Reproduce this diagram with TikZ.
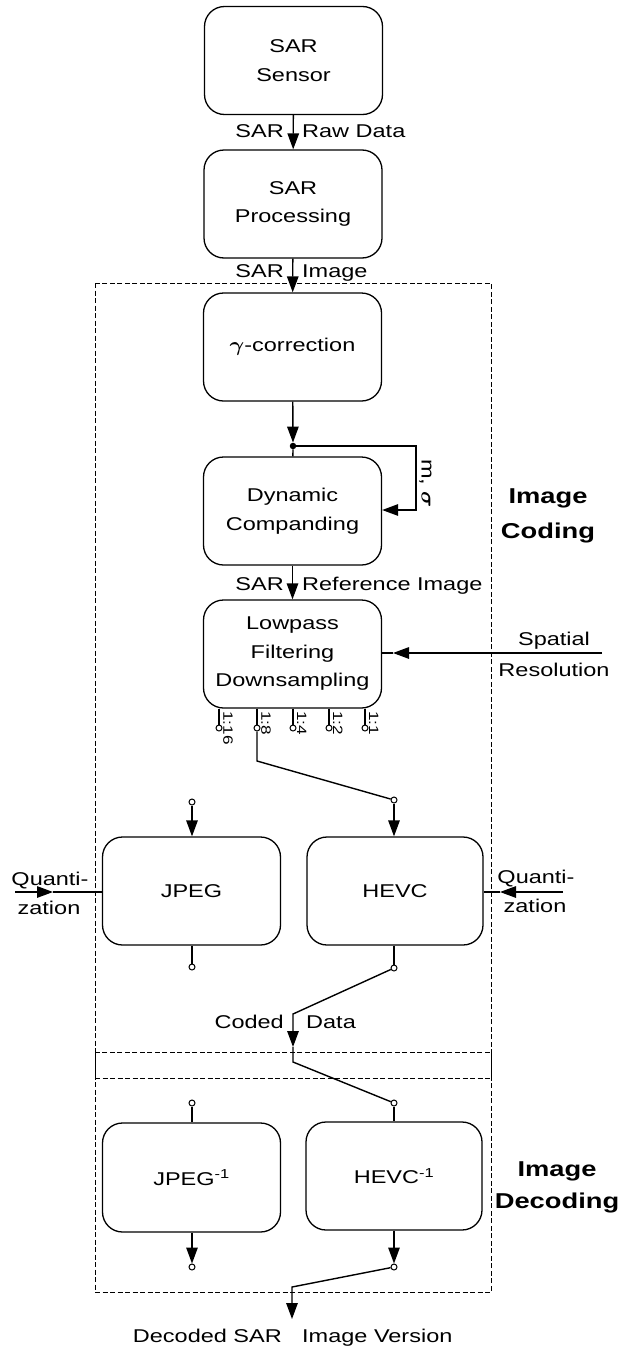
\documentclass[tikz,border=0pt]{standalone}
\usepackage{bm}
\usepackage{graphicx}
\usepackage{fontspec}
\setmainfont{Liberation Sans}[FakeStretch=1.27]
\usetikzlibrary{arrows.meta}
\newcommand{\txtsize}{\fontsize{18.5pt}{28.5pt}\selectfont}
\newcommand{\tapsize}{\fontsize{13.5pt}{16pt}\selectfont}
\newcommand{\headsize}{\fontsize{21.5pt}{26pt}\selectfont\bfseries}
\newcommand{\grk}[1]{\scalebox{1.3}[1.15]{$\bm{#1}$}}
\begin{document}
\begin{tikzpicture}[x=1pt,y=-1pt,
  block/.style={draw, line width=1.3pt, rounded corners=20pt,
    minimum width=178pt, minimum height=108pt, align=center,
    font=\txtsize, inner sep=2pt},
  flow/.style={line width=1.4pt, -{Triangle[length=16pt,width=11.5pt]}},
  wire/.style={line width=1.4pt},
  tap/.style={circle, draw, fill=white, line width=1pt, inner sep=0pt,
    minimum size=6pt},
  junct/.style={circle, fill, inner sep=0pt, minimum size=6.5pt},
  lbl/.style={font=\txtsize, inner sep=0pt},
  ratio/.style={font=\tapsize, inner sep=0pt, rotate=-90, anchor=south west},
  head/.style={font=\headsize, inner sep=0pt, anchor=base},
  frame/.style={draw, line width=1pt, dash pattern=on 5pt off 2.5pt}]

\useasboundingbox (0,0) rectangle (624,1349);

% coding and decoding frames
\draw[frame] (95,283) rectangle (491,1078);
\draw[frame] (95,1052) rectangle (491,1292);

% processing chain
\node[block] (sensor) at (293.5,60.5) {SAR\\Sensor};
\node[block] (proc)   at (293,204)   {SAR\\Processing};
\node[block] (gamma)  at (292.5,347) {\grk{\gamma}-correction};
\node[block] (dyn)    at (292.5,511) {Dynamic\\Companding};
\node[block] (lpf)    at (292.5,654) {Lowpass\\Filtering\\Downsampling};

\draw[flow] (sensor) -- (proc);
\draw[flow] (proc) -- (gamma);
\node[lbl, anchor=base east] (l1a) at (284,137) {SAR};
\node[lbl, anchor=base west] (l1b) at (302,137) {Raw Data};
\node[lbl, anchor=base east] (l2a) at (284,277) {SAR};
\node[lbl, anchor=base west] (l2b) at (302,277) {Image};

% statistics feedback
\node[junct] (j) at (293,446) {};
\coordinate (fb1) at (416,446);
\coordinate (fb2) at (416,510);
\draw[flow] (gamma) -- (j);
\draw[wire] (j) -- (dyn);
\draw[flow] (j.center) -- (fb1) -- (fb2) -- (fb2 -| dyn.east);
\node[font=\txtsize, inner sep=0pt, rotate=-90, anchor=south west] (ms) at (419,459) {m, \grk{\sigma}};

\draw[flow] (dyn) -- (lpf);
\node[lbl, anchor=base east] (l3a) at (284,590) {SAR};
\node[lbl, anchor=base west] (l3b) at (302,590) {Reference Image};

% spatial resolution input
\coordinate (sr0) at (602,653);
\coordinate (sr1) at (393,653);
\draw[flow] (sr0) -- (sr1);
\draw[wire] (sr1) -- (sr1 -| lpf.east);
\node[head, font=\txtsize\mdseries] (sp1) at (554,645) {Spatial};
\node[head, font=\txtsize\mdseries] (sp2) at (554,676) {Resolution};

% downsampling taps
\foreach \nm/\xx/\rt in {t16/219/1:16, t8/257/1:8, t4/293/1:4, t2/329/1:2, t1/365/1:1}{
  \node[tap] (\nm) at (\xx,728) {};
  \draw[wire] (\nm |- lpf.south) -- (\nm);
  \node[ratio] at (\xx+4,711) {\rt};
}

% encoders
\node[block] (jpeg) at (191.5,891) {JPEG};
\node[block, minimum width=176pt] (hevc) at (395,891) {HEVC};

\node[tap] (jin)  at (192,802) {};
\node[tap] (hin)  at (394,800) {};
\coordinate (s1) at (257,761);
\draw[wire] (t8) -- (s1) -- (hin);
\draw[flow] (jin) -- (jin |- jpeg.north);
\draw[flow] (hin) -- (hin |- hevc.north);

% quantization inputs
\coordinate (q0) at (15,892);
\coordinate (q1) at (53,892);
\draw[flow] (q0) -- (q1);
\draw[wire] (q1) -- (q1 -| jpeg.west);
\node[head, font=\txtsize\mdseries] (qa) at (50,885) {Quanti-};
\node[head, font=\txtsize\mdseries] (qb) at (49,914) {zation};
\coordinate (r0) at (563,892);
\coordinate (r1) at (500,892);
\draw[flow] (r0) -- (r1);
\draw[wire] (r1) -- (r1 -| hevc.east);
\node[head, font=\txtsize\mdseries] (ra) at (536,883) {Quanti-};
\node[head, font=\txtsize\mdseries] (rb) at (535,912) {zation};

% encoder outputs and channel
\node[tap] (jout) at (192,967) {};
\node[tap] (hout) at (394,968) {};
\draw[wire] (jout |- jpeg.south) -- (jout);
\draw[wire] (hout |- hevc.south) -- (hout);
\coordinate (c1) at (293,1014);
\coordinate (c2) at (293,1047);
\coordinate (c3) at (293,1062);
\draw[flow] (hout) -- (c1) -- (c2);
\node[lbl, anchor=base east] (cd1) at (284,1028) {Coded};
\node[lbl, anchor=base west] (cd2) at (306,1028) {Data};

% decoders
\node[block, minimum height=109pt] (jpegi) at (191.5,1177.5) {JPEG\textsuperscript{-1}};
\node[block, minimum width=176pt] (hevci) at (394,1176) {HEVC\textsuperscript{-1}};
\node[tap] (jiin) at (192,1103) {};
\node[tap] (hiin) at (394,1103) {};
\draw[wire] (c2) -- (c3) -- (hiin);
\draw[wire] (jiin) -- (jiin |- jpegi.north);
\draw[wire] (hiin) -- (hiin |- hevci.north);
\node[tap] (jiout) at (192,1267) {};
\node[tap] (hiout) at (394,1267) {};
\draw[flow] (jiout |- jpegi.south) -- (jiout.north);
\draw[flow] (hiout |- hevci.south) -- (hiout.north);
\coordinate (o1) at (292,1287);
\coordinate (o2) at (292,1319);
\draw[flow] (hiout) -- (o1) -- (o2);
\node[lbl, anchor=base east] (out1) at (282,1342) {Decoded SAR};
\node[lbl, anchor=base west] (out2) at (302,1342) {Image Version};

% section headings
\node[head] (hc1) at (548,503) {Image};
\node[head] (hc2) at (548,538) {Coding};
\node[head] (hd1) at (557,1176) {Image};
\node[head] (hd2) at (557,1208) {Decoding};
\end{tikzpicture}
\end{document}
